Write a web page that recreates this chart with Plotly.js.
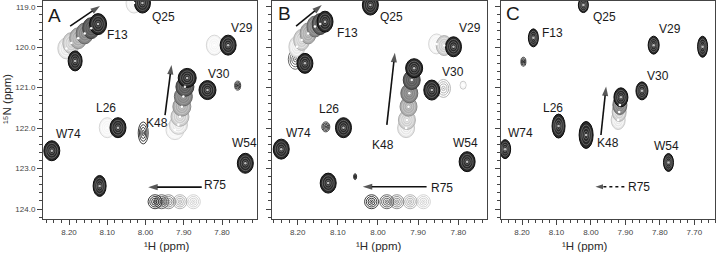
<!DOCTYPE html>
<html><head><meta charset="utf-8">
<script src="https://cdn.plot.ly/plotly-3.0.1.min.js"></script>
<style>html,body{margin:0;padding:0;background:#fff;}#chart{width:716px;height:253px;}</style>
</head><body><div id="chart"></div>
<script>
// ---------------- DATA (1H ppm, 15N ppm, titration step 0..6) ----------------
// Panel A – filled contour peaks
const aPeak = ['F13','F13','F13','F13','F13','F13','K48','K48','K48','K48','K48','K48','K48','Q25','Q25','V29','V29','L26','L26','p120','V30','W74','W54','p123'];
const aH = [8.207,8.194,8.176,8.159,8.142,8.124, 7.923,7.914,7.910,7.905,7.901,7.897,7.891, 8.030,8.008, 7.820,7.784, 8.100,8.072, 8.184, 7.838, 8.245, 7.739, 8.120];
const aN = [120.03,119.90,119.78,119.66,119.53,119.43, 122.05,121.92,121.72,121.47,121.22,120.98,120.76, 118.91,118.91, 119.95,119.95, 121.99,121.99, 120.34, 121.06, 122.56, 122.87, 123.43];
const aStep = [1,2,3,4,5,6, 0,1,2,3,4,5,6, 0,6, 0,6, 0,6, 6,6,6,6,6];
// Panel A – line-only contour peaks
const aoPeak = ['R75','R75','R75','R75','R75','p122','p121'];
const aoH = [7.875,7.910,7.940,7.958,7.975, 8.006, 7.759];
const aoN = [123.82,123.82,123.82,123.82,123.82, 122.12, 120.95];
const aoStep = [2,3,4,5,6, 6, 6];

// Panel B – filled contour peaks
const bPeak = ['F13','F13','F13','F13','F13','F13','K48','K48','K48','K48','K48','K48','V29','V29','V29','Q25','p120','V30','p121','L26','W74','W54','p123'];
const bH = [8.202,8.190,8.174,8.157,8.144,8.132, 7.930,7.928,7.924,7.922,7.916,7.910, 7.854,7.835,7.812, 8.019, 8.182, 7.866, 7.788, 8.086, 8.241, 7.778, 8.124];
const bN = [119.99,119.82,119.66,119.49,119.43,119.37, 122.00,121.80,121.47,121.14,120.81,120.52, 119.92,119.96,119.99, 118.96, 120.40, 121.06, 120.94, 121.99, 122.52, 122.83, 123.36];
const bStep = [1,2,3,4,5,6, 1,2,3,4,5,6, 0,2,6, 6,6,6,1,6,6,6,6];
// Panel B – line-only contour peaks
const boPeak = ['R75','R75','R75','R75','R75','p120o','V30o','L26o','p123o'];
const boH = [7.887,7.920,7.953,7.978,8.016, 8.206, 7.837, 8.130, 8.057];
const boN = [123.82,123.82,123.82,123.82,123.82, 120.30, 121.02, 121.97, 123.20];
const boStep = [2,3,4,5,6, 5, 3, 6, 6];

// Panel C – filled contour peaks
const cPeak = ['Q25','F13','V29','p119','V30','K48','K48','K48','K48','p122','L26','W74','W54'];
const cH = [8.022,8.167,7.818,7.676,7.852, 7.921,7.918,7.916,7.913, 8.014,8.094,8.249,7.775];
const cN = [118.96,119.77,119.95,119.99,121.08, 121.80,121.60,121.43,121.24, 122.17,121.95,122.52,122.85];
const cStep = [6,6,6,6,6, 1,2,4,6, 6,6,6,6];
// Panel C – line-only contour peaks
const coPeak = ['p120'];
const coH = [8.196];
const coN = [120.36];
const coStep = [6];

// Residue labels and titles
const labelText = ['Q25','F13','V29','V30','K48','L26','W74','W54','R75'];
const panelLetters = ['A','B','C'];
const xTitle = '\u00B9H (ppm)';
const yTitle = '\u00B9\u2075N (ppm)';

// ---------------- LAYOUT / STYLE ----------------
const FONT = 'Liberation Sans, Arial, Helvetica, sans-serif';
const maxStep = 6;
function gray(g){g=Math.max(0,Math.min(255,Math.round(g)));return 'rgb('+g+','+g+','+g+')';}
function toneGray(step){const t=step/maxStep;return 245-205*Math.pow(t,1.5);}

const labelPos = {
  A:[[7.952,119.25],[8.074,119.70],[7.748,119.53],[7.807,120.66],[7.971,121.87],[8.103,121.50],[8.202,122.15],[7.742,122.37],[7.818,123.41]],
  B:[[7.966,119.25],[8.076,119.64],[7.771,119.53],[7.812,120.61],[7.987,122.42],[8.121,121.54],[8.198,122.11],[7.783,122.38],[7.841,123.49]],
  C:[[7.961,119.25],[8.113,119.64],[7.771,119.56],[7.806,120.71],[7.951,122.38],[8.109,121.51],[8.203,122.13],[7.782,122.44],[7.860,123.46]]
};
const letterPos = {A:[8.237,119.21],B:[8.232,119.18],C:[8.225,119.18]};
// arrows: [tailH, tailN, headH, headN, dotted]
const arrows = {
  A:[[8.197,119.48,8.119,118.98,false],[7.949,121.68,7.932,120.44,false],[7.853,123.46,7.993,123.46,false]],
  B:[[8.204,119.48,8.140,118.96,false],[7.978,121.92,7.958,120.14,false],[7.879,123.45,8.038,123.45,false]],
  C:[[7.971,122.17,7.956,120.97,false],[7.903,123.45,7.987,123.45,true]]
};

const sizeDefault = {A:[16,20],B:[16,20],C:[11,18]};
const sizeOverride = {
  A:{R75:[14,14],p122:[10,22],p121:[6,9],p120:[14,20],p123:[13,21],K48:[18,19],F13:[17,21],V30:[17,19]},
  B:{R75:[14,14],p120o:[14,20],V30o:[14,18],L26o:[8,10],p123o:[3,6],p121:[6,8],K48:[17,19],F13:[16,21]},
  C:{Q25:[10,15],F13:[10,18],p119:[10,21],V30:[12,18],K48:[14,19],p122:[14,27],L26:[13,24],W74:[11,19],W54:[10,18],V29:[11,18],p120:[5,9]}
};

const panels = [
  {id:'A',xa:'x',ya:'y',fill:[aPeak,aH,aN,aStep],open:[aoPeak,aoH,aoN,aoStep],dom:[43/716,257/716],range:[8.268,7.7085],tx:142},
  {id:'B',xa:'x2',ya:'y2',fill:[bPeak,bH,bN,bStep],open:[boPeak,boH,boN,boStep],dom:[272/716,487/716],range:[8.264,7.7285],tx:379},
  {id:'C',xa:'x3',ya:'y3',fill:[cPeak,cH,cN,cStep],open:[coPeak,coH,coN,coStep],dom:[501/716,715/716],range:[8.261,7.640],tx:610}
];

function ell(p,x,y,w,h,fill,lineColor,lw){
  return {type:'circle',xref:p.xa,yref:p.ya,xsizemode:'pixel',ysizemode:'pixel',
    xanchor:x,yanchor:y,x0:-w/2,x1:w/2,y0:-h/2,y1:h/2,
    fillcolor:fill,line:{color:lineColor,width:lw},layer:'below'};
}
function sizeOf(p,name){return (sizeOverride[p.id][name])||sizeDefault[p.id];}

const shapes=[], annotations=[], traces=[];
panels.forEach(p=>{
  const [op,oh,on,os]=p.open;
  op.map((_,i)=>i).sort((i,j)=>os[i]-os[j]).forEach(i=>{
    const [w,h]=sizeOf(p,op[i]); const g=toneGray(os[i]);
    [1,0.75,0.5,0.25].forEach(s=>shapes.push(ell(p,oh[i],on[i],w*s,h*s,'rgba(0,0,0,0)',gray(g),0.9)));
  });
  const [fp,fh,fn,fs]=p.fill;
  fp.map((_,i)=>i).sort((i,j)=>fs[i]-fs[j]).forEach(i=>{
    const [w,h]=sizeOf(p,fp[i]); const g=toneGray(fs[i]);
    shapes.push(ell(p,fh[i],fn[i],w,h,gray(g),gray(g-30),1));
    const rc = fs[i]===maxStep? g+70 : g+30;
    [0.74,0.5,0.28].forEach(s=>shapes.push(ell(p,fh[i],fn[i],w*s,h*s,'rgba(0,0,0,0)',gray(rc),0.8)));
  });
  traces.push({type:'scatter',mode:'markers',xaxis:p.xa,yaxis:p.ya,x:fh,y:fn,text:fp,
    hoverinfo:'text',marker:{size:2.5,color:fs.map(s=>gray(toneGray(s)+150))},showlegend:false});
  traces.push({type:'scatter',mode:'markers',xaxis:p.xa,yaxis:p.ya,x:oh,y:on,text:op,
    hoverinfo:'text',marker:{size:1.5,color:os.map(s=>gray(toneGray(s)))},showlegend:false});
  arrows[p.id].forEach(a=>{
    traces.push({type:'scatter',mode:'lines+markers',xaxis:p.xa,yaxis:p.ya,x:[a[0],a[2]],y:[a[1],a[3]],
      hoverinfo:'skip',showlegend:false,cliponaxis:false,
      line:{color:'#111',width:1.6,dash:a[4]?'dot':'solid'},
      marker:{symbol:['circle','arrow'],size:[3,a[4]?8:10],angleref:'previous',
        color:['rgba(17,17,17,0)','#111'],line:{width:0}}});
  });
  labelText.forEach((t,k)=>{
    const pos=labelPos[p.id][k];
    annotations.push({xref:p.xa,yref:p.ya,x:pos[0],y:pos[1],text:t,showarrow:false,
      font:{family:FONT,size:12,color:'#1a1a1a'}});
  });
  annotations.push({xref:p.xa,yref:p.ya,x:letterPos[p.id][0],y:letterPos[p.id][1],text:p.id,showarrow:false,
    font:{family:FONT,size:19,color:'#1a1a1a'}});
  annotations.push({xref:'paper',yref:'paper',x:p.tx/716,y:(253-246)/253,yanchor:'middle',text:xTitle,
    showarrow:false,font:{family:FONT,size:11.5,color:'#2a2a2a'}});
});
annotations.push({xref:'paper',yref:'paper',x:7/716,y:(253-99)/253,xanchor:'center',yanchor:'middle',textangle:-90,
  text:yTitle,showarrow:false,font:{family:FONT,size:11.5,color:'#2a2a2a'}});

const yDom=[(253-219)/253,(253-1)/253];
const yRange=[124.247,118.859];
function xAxis(p,yName){
  return {domain:p.dom,range:p.range,anchor:yName,dtick:0.1,tick0:8.2,tickformat:'.2f',
    ticks:'outside',ticklen:5,tickwidth:1,tickcolor:'#444',
    minor:{dtick:0.02,tick0:8.2,ticks:'outside',ticklen:3,tickwidth:1,tickcolor:'#444'},
    showline:true,linecolor:'#444',linewidth:1,mirror:true,showgrid:false,zeroline:false,
    tickfont:{family:FONT,size:8,color:'#444'},fixedrange:true};
}
function yAxis(xName,labels){
  return {domain:yDom,range:yRange,anchor:xName,dtick:1,tick0:119,tickformat:'.1f',
    ticks:'outside',ticklen:5,tickwidth:1,tickcolor:'#444',showticklabels:labels,
    minor:{dtick:0.2,tick0:119,ticks:'outside',ticklen:3,tickwidth:1,tickcolor:'#444'},
    showline:true,linecolor:'#444',linewidth:1,mirror:true,showgrid:false,zeroline:false,
    tickfont:{family:FONT,size:8,color:'#444'},fixedrange:true};
}
const layout={width:716,height:253,margin:{l:0,r:0,t:0,b:0},paper_bgcolor:'#fff',plot_bgcolor:'#fff',
  showlegend:false,shapes:shapes,annotations:annotations,
  xaxis:xAxis(panels[0],'y'),xaxis2:xAxis(panels[1],'y2'),xaxis3:xAxis(panels[2],'y3'),
  yaxis:yAxis('x',true),yaxis2:yAxis('x2',false),yaxis3:yAxis('x3',false)};
Plotly.newPlot('chart',traces,layout,{staticPlot:true,displayModeBar:false});
</script></body></html>
